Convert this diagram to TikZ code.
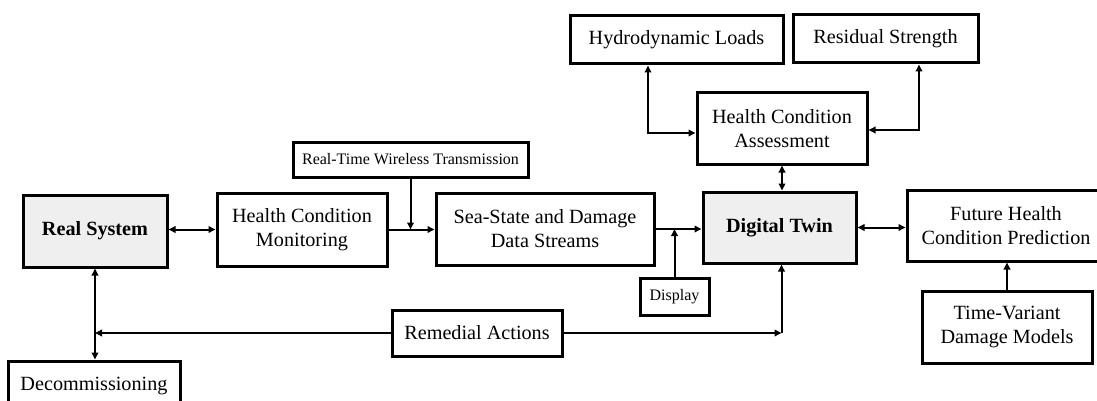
\documentclass[tikz,border=0pt]{standalone}
\usepackage{fontspec}
\setmainfont{Liberation Serif}
\usetikzlibrary{arrows.meta}
\definecolor{boxgray}{HTML}{EFEFEF}
\begin{document}
\begin{tikzpicture}[x=1pt,y=-1pt,
  box/.style={draw,line width=3pt,inner sep=0pt,align=center,font=\fontsize{20.2}{24}\selectfont},
  boldbox/.style={box,fill=boxgray,font=\fontsize{20.2}{24}\selectfont\bfseries},
  small/.style={box,font=\fontsize{16}{19}\selectfont},
  conn/.style={line width=2pt,arrows={-Triangle[length=7pt,width=6.5pt]}},
  conn2/.style={line width=2pt,arrows={Triangle[length=7pt,width=6.5pt]-Triangle[length=7pt,width=6.5pt]}}]
\useasboundingbox (0,0) rectangle (1097,401);
\begin{scope}
\clip (0,0) rectangle (1097,401);
\node[boldbox,minimum width=144pt,minimum height=72pt] (RS) at (95,231) {Real System};
\node[box,minimum width=170pt,minimum height=73pt] (HCM) at (302,229.5) {Health Condition\\Monitoring};
\node[small,minimum width=235pt,minimum height=35pt] (RTWT) at (410.5,159.5) {Real-Time Wireless Transmission};
\node[box,minimum width=218pt,minimum height=72pt] (SS) at (545,229) {Sea-State and Damage\\Data Streams};
\node[small,minimum width=69pt,minimum height=37pt] (DI) at (674.5,296.5) {Display};
\node[boldbox,minimum width=153pt,minimum height=71pt] (DT) at (779.5,227.5) {Digital Twin};
\node[box,minimum width=198pt,minimum height=71pt] (FH) at (1006,225.5) {Future Health\\Condition Prediction};
\node[box,minimum width=170pt,minimum height=72pt] (TV) at (1007,327) {Time-Variant\\Damage Models};
\node[box,minimum width=170pt,minimum height=46pt] (RA) at (477,333) {Remedial Actions};
\node[box,minimum width=172pt,minimum height=50pt] (DC) at (94,386) {Decommissioning};
\node[box,minimum width=170pt,minimum height=71pt] (HCA) at (782,128.5) {Health Condition\\Assessment};
\node[box,minimum width=213pt,minimum height=48pt] (HL) at (676.5,40) {Hydrodynamic Loads};
\node[box,minimum width=185pt,minimum height=48pt] (RSt) at (885.5,39) {Residual Strength};

\draw[conn2] (RS.east |- HCM.west) -- (HCM.west);
\draw[conn] (HCM.east) -- (SS.west |- HCM.east);
\coordinate (j1) at (RTWT.south |- HCM.east);
\draw[conn] (RTWT.south) -- (j1);
\draw[conn] (SS.east) -- (DT.west |- SS.east);
\coordinate (j2) at (DI.north |- SS.east);
\draw[conn] (DI.north) -- (j2);
\draw[conn2] (DT.east) -- (FH.west |- DT.east);
\draw[conn] (TV.north) -- (FH.south -| TV.north);
\draw[conn2] (HCA.south) -- (HCA.south |- DT.north);
\draw[conn2] ([xshift=-28.5pt]HL.south) |- ([yshift=-4.5pt]HCA.west);
\draw[conn2] ([xshift=33.5pt]RSt.south) |- ([yshift=-1.5pt]HCA.east);
\coordinate (c1) at ([xshift=2pt]DT.south |- RA.east);
\draw[conn] (RA.east) -- (c1);
\draw[conn] (c1) -- (c1 |- DT.south);
\coordinate (c2) at (RS.south |- RA.west);
\draw[conn] (RA.west) -- (c2);
\draw[conn2] (RS.south) -- (RS.south |- DC.north);
\end{scope}
\end{tikzpicture}
\end{document}
